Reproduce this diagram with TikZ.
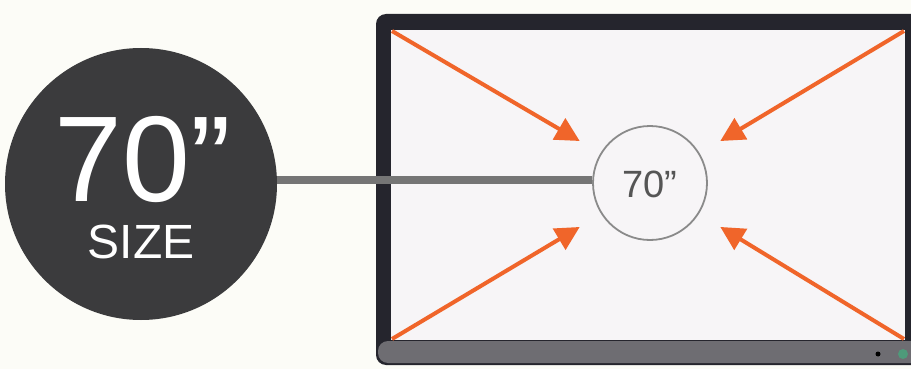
\documentclass[tikz,border=0pt]{standalone}
\usepackage{fontspec}
\setmainfont{Liberation Sans}
\usetikzlibrary{arrows.meta}
\definecolor{bgc}{HTML}{FCFCF7}
\definecolor{screenc}{HTML}{F7F5F7}
\definecolor{framec}{HTML}{25252D}
\definecolor{bezelc}{HTML}{6E6D72}
\definecolor{arrc}{HTML}{F0652A}
\definecolor{darkc}{HTML}{3B3B3D}
\definecolor{linec}{HTML}{757575}
\definecolor{ringc}{HTML}{8A8A8A}
\definecolor{txtc}{HTML}{555555}
\definecolor{ledc}{HTML}{4E9A7A}
\tikzset{
  pointer/.style={draw=arrc, line width=4pt, -{Triangle[length=24pt,width=24pt]}, shorten >=-2pt},
}
\begin{document}
\begin{tikzpicture}[x=1pt,y=-1pt]
\useasboundingbox (0,0) rectangle (911,369);
\fill[bgc] (0,0) rectangle (911,369);
% TV
\fill[framec, rounded corners=10pt] (376,14) -- (376,365) -- (925,365) -- (925,14) -- cycle;
\fill[bezelc, rounded corners=10pt] (378,341) -- (378,363) -- (925,363) -- (925,341) -- cycle;
\fill[screenc] (391,30) rectangle (905,340);
\fill[black] (878,354) circle (2.5pt);
\fill[ledc] (903,354) circle (5pt);
% corner coordinates
\coordinate (tl) at (392,31);
\coordinate (tr) at (904,31);
\coordinate (bl) at (392,339);
\coordinate (br) at (904,339);
\coordinate (atl) at (578,140);
\coordinate (atr) at (722,140);
\coordinate (abl) at (578,228);
\coordinate (abr) at (722,228);
\draw[pointer] (tl) -- (atl);
\draw[pointer] (tr) -- (atr);
\draw[pointer] (bl) -- (abl);
\draw[pointer] (br) -- (abr);
% big badge
\node[circle, fill=darkc, minimum size=272pt, inner sep=0pt] (badge) at (141,184) {};
\node[circle, draw=ringc, line width=1.8pt, fill=screenc, minimum size=114pt, inner sep=0pt] (ring) at (650,183) {};
\draw[linec, line width=8pt] (badge.east |- 0,180) -- (ring.west |- 0,180);
\node[anchor=base, text=white, font=\fontsize{122}{122}\selectfont, inner sep=0pt, text depth=0pt] (big) at (143,201) {70”};
\node[anchor=base, text=white, font=\fontsize{48}{48}\selectfont, inner sep=0pt, text height=35pt] (size) at (141,258) {SIZE};
\node[anchor=base, text=txtc, font=\fontsize{38}{38}\selectfont, inner sep=0pt] (small) at (650,197) {70\symbol{34}};
\end{tikzpicture}
\end{document}
